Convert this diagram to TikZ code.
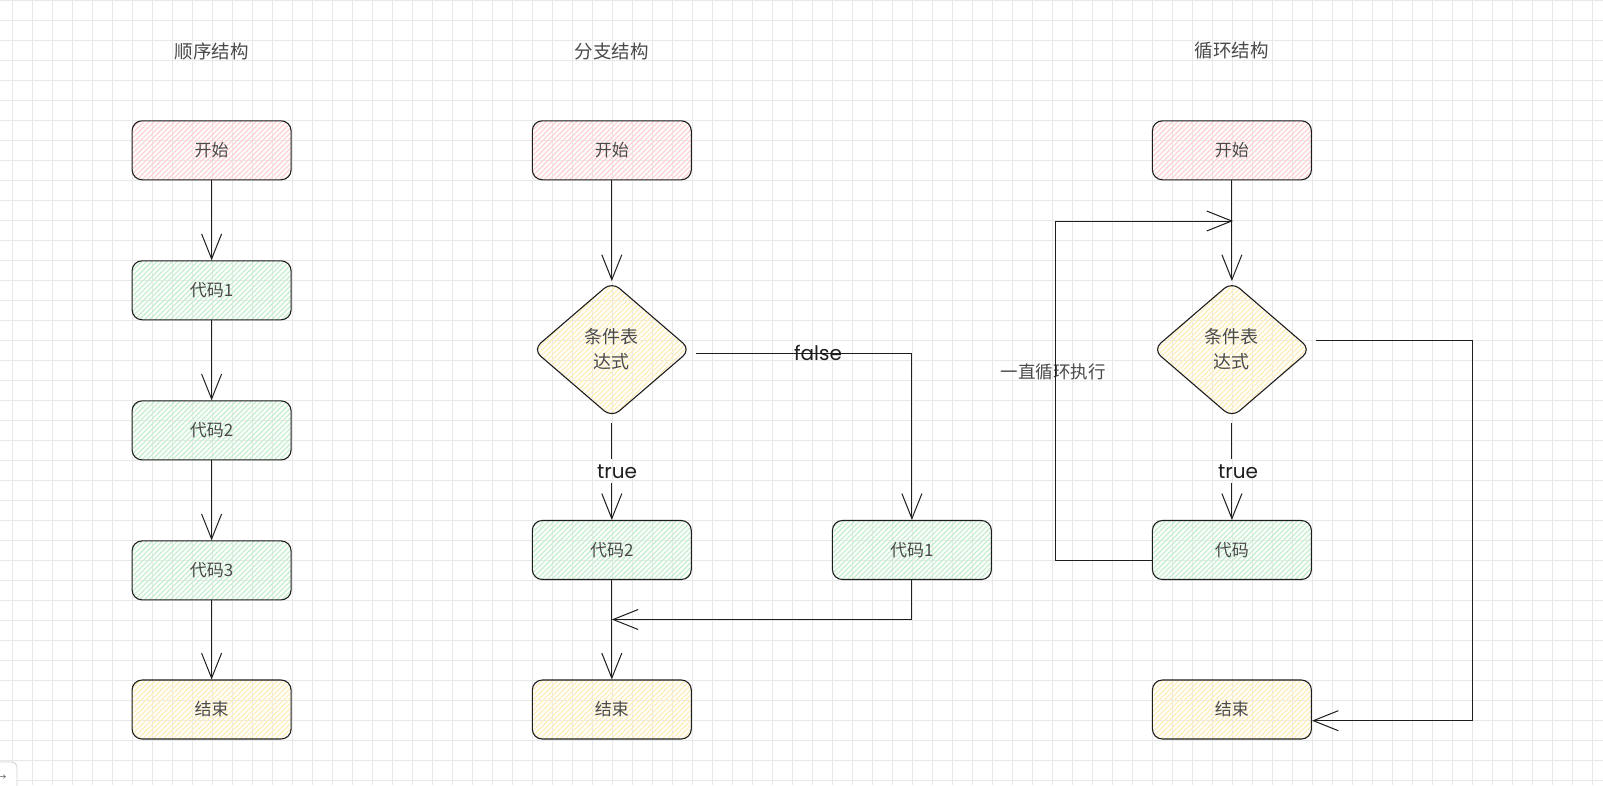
\documentclass[tikz,border=0pt]{standalone}
\usepackage{fontspec}
\setmainfont{Noto Sans CJK SC}
\newfontfamily\latinhand{Poppins}
\usetikzlibrary{arrows.meta,shapes.geometric,patterns.meta}
\definecolor{gridc}{HTML}{E8E8E8}
\definecolor{pinkline}{HTML}{FFD3D3}
\definecolor{greenline}{HTML}{C6F0CD}
\definecolor{yellowline}{HTML}{FFEFBC}
\definecolor{ink}{HTML}{1E1E1E}
\definecolor{txt}{HTML}{4A4A4A}
\tikzset{
  hatch/.style={pattern={Lines[angle=45,distance=3.6pt,line width=1.3pt]}},
  box/.style={draw=ink, line width=1.1pt, rounded corners=10pt,
    minimum width=159pt, minimum height=59pt, inner sep=0pt,
    font=\fontsize{17}{20}\selectfont, text=txt},
  startbox/.style={box, hatch, pattern color=pinkline},
  codebox/.style={box, hatch, pattern color=greenline},
  endbox/.style={box, hatch, pattern color=yellowline},
  decision/.style={diamond, draw=ink, line width=1.1pt, rounded corners=10pt,
    minimum width=158pt, minimum height=136pt, inner sep=0pt, align=center,
    font=\fontsize{18}{25}\selectfont, text=txt, hatch, pattern color=yellowline},
  titletext/.style={font=\fontsize{18.5}{22}\selectfont, text=txt},
  edgelabel/.style={font=\latinhand\fontsize{20}{24}\selectfont, text=ink, inner sep=5pt},
  looplabel/.style={font=\fontsize{17.5}{21}\selectfont, text=txt},
  conn/.style={draw=ink, line width=1pt},
  arr/.style={conn, -{Straight Barb[length=25pt,width=20pt,line width=1pt]}},
}
\begin{document}
\begin{tikzpicture}[x=1pt,y=-1pt]
\useasboundingbox (0,0) rectangle (1603,785);
\fill[white] (0,0) rectangle (1603,785);
\foreach \x in {12,32,...,1600} \draw[gridc, line width=0.8pt] (\x,0) -- (\x,785);
\foreach \y in {0,20,...,780} \draw[gridc, line width=0.8pt] (0,\y) -- (1603,\y);

% titles
\node[titletext] (t1) at (211.6,51) {顺序结构};
\node[titletext] (t2) at (611.8,51) {分支结构};
\node[titletext] (t3) at (1231.9,51) {循环结构};

% column 1: sequence
\node[startbox] (s1) at (211.6,150.3) {开始};
\node[codebox] (c11) at (211.6,290.3) {代码1};
\node[codebox] (c12) at (211.6,430.4) {代码2};
\node[codebox] (c13) at (211.6,570.4) {代码3};
\node[endbox] (e1) at (211.6,709.5) {结束};
\draw[arr] (s1) -- (c11);
\draw[arr] (c11) -- (c12);
\draw[arr] (c12) -- (c13);
\draw[arr] (c13) -- (e1);

% column 2: branch
\node[startbox] (s2) at (611.8,150.3) {开始};
\node[decision] (d2) at (611.8,349.6) {条件表\\达式};
\node[codebox] (c22) at (611.8,550) {代码2};
\node[codebox] (c21) at (911.9,550) {代码1};
\node[endbox] (e2) at (611.8,709.5) {结束};
\node[edgelabel] (tl2) at (617,471.3) {true};
\node[edgelabel, inner sep=0pt] (fl2) at (818,353) {false};
\draw[arr] (s2) -- (d2);
\draw[conn, shorten <=5pt] (d2.south) -- (tl2.north -| d2.south);
\draw[arr] (tl2.south -| d2.south) -- (c22.north);
\draw[arr] ([xshift=5pt,yshift=-4pt]d2.east) -| (c21.north);
\coordinate (m2) at (611.8,619.5);
\draw[arr] (c21.south) |- (m2);
\draw[arr] (c22) -- (e2);

% column 3: loop
\node[startbox] (s3) at (1231.9,150.3) {开始};
\node[decision] (d3) at (1231.9,349.6) {条件表\\达式};
\node[codebox] (c3) at (1231.9,550) {代码};
\node[endbox] (e3) at (1231.9,709.5) {结束};
\node[edgelabel] (tl3) at (1238,471.3) {true};
\node[looplabel] (ll3) at (1053,372) {一直循环执行};
\draw[arr] (s3) -- (d3);
\draw[conn, shorten <=5pt] (d3.south) -- (tl3.north -| d3.south);
\draw[arr] (tl3.south -| d3.south) -- (c3.north);
\coordinate (lx) at (1055,221);
\coordinate (lt) at (1233,221);
\draw[arr] ([yshift=-10pt]c3.west) -| (lx) -- (lt);
\coordinate (eb) at (1472,720.7);
\draw[arr] ([shift={(5pt,9pt)}]d3.east) -| (eb) -- (e3.east |- eb);

% small corner widget
\draw[gray!35, line width=0.8pt, fill=white, rounded corners=5pt] (-12,762) rectangle (17,800);
\node[font=\fontsize{9}{10}\selectfont, text=txt, inner sep=0pt] (ui) at (2,778) {→};
\end{tikzpicture}
\end{document}
